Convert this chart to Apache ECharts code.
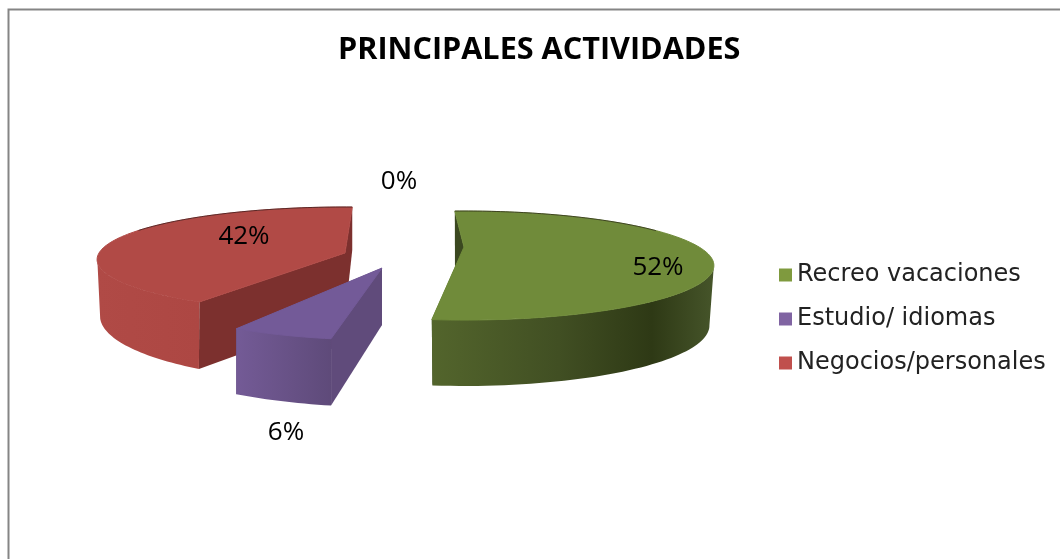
<!DOCTYPE html>
<html><head><meta charset="utf-8">
<style>html,body{margin:0;padding:0;background:#fff}#c{width:1060px;height:559px}</style>
<script src="https://cdn.jsdelivr.net/npm/echarts@6/dist/echarts.min.js"></script>
</head><body><div id="c"></div>
<script>
const titleText = 'PRINCIPALES ACTIVIDADES';
const categories = ['Recreo vacaciones', 'Estudio/ idiomas', 'Negocios/personales', ''];
const values = [52, 6, 42, 0];

// Projection of each exploded slice onto the page (perspective: k)
const layout = [
  { top: {cx:464, cy:247, R:235, S:48.2, k:.34, rot:-3, rotEnd:-2},
    bot: {cx:464, cy:305, R:231, S:53.6, k:.338, rot:-3, rotEnd:-2},
    topColor:'#708b3a', wallColor:'#3b4820', gradX:[431,714],
    grad:[[0,'#53652c'],[.45,'#414f23'],[.78,'#2e3915'],[1,'#46552a']],
    wallArc:[112,187.2], backArc:[0,70],
    label:[658,268] },
  { top: {cx:382, cy:268, R:272, S:72, k:0, rot:3.6, rotEnd:3.6},
    bot: {cx:382, cy:325, R:272, S:82, k:0, rot:3.6, rotEnd:3.6},
    topColor:'#735a98', wallColor:'#604b7b', gradX:[234,333],
    grad:[[0,'#745b97'],[1,'#5e4a79']],
    wallArc:[187.2,208.8],
    label:[286,433] },
  { top: {cx:345, cy:253, R:246, S:51.7, k:.124, rot:3.2, rotEnd:1.9},
    bot: {cx:345, cy:316, R:245, S:66, k:0, rot:7.8, rotEnd:1.7},
    topColor:'#b14a46', wallColor:'#7c302e', gradX:[97,200],
    grad:[[0,'#b04a46'],[1,'#ad4743']],
    wallArc:[208.8,262], backArc:[295,360],
    label:[244,237] },
  { label:[399,182] }
];
const legendColors = ['#7f9a3e', '#8064a2', '#c0504d'];

const total = values.reduce((a,b)=>a+b,0);
const starts = values.map((_,i)=>values.slice(0,i).reduce((a,b)=>a+b,0)/total*360);

function makePt(m,a,b){
  return function(deg){
    const f=(deg-a)/(b-a), t=(deg+m.rot+(m.rotEnd-m.rot)*f)*Math.PI/180;
    const X=Math.sin(t), Y=Math.cos(t), w=1+m.k*Y;
    return [m.cx+m.R*X/w, m.cy-m.S*Y/w];
  };
}
function arc(p,a,b){
  const out=[], n=Math.max(2,Math.ceil(Math.abs(b-a)/1.5));
  for(let i=0;i<=n;i++) out.push(p(a+(b-a)*i/n));
  return out;
}
function renderSlice(i){
  return function(params, api){
    const v=api.value(0), L=layout[i], a=starts[i], b=a+v/total*360, children=[];
    const text={type:'text',z2:10,style:{text:Math.round(v)+'%',x:L.label[0],y:L.label[1],
      align:'center',verticalAlign:'middle',font:'26px "Open Sans"',fill:'#000'}};
    if(v>0){
      const T=L.top,B=L.bot,ct=[T.cx,T.cy],cb=[B.cx,B.cy],pT=makePt(T,a,b),pB=makePt(B,a,b);
      const poly=(points,fill,stroke)=>({type:'polygon',shape:{points},style:{fill,stroke:stroke||null,lineWidth:stroke?1:0}});
      children.push(poly([pT(b),ct,cb,pB(b)],L.wallColor));
      children.push(poly([pT(a),ct,cb,pB(a)],L.wallColor));
      const grad=new echarts.graphic.LinearGradient(L.gradX[0],0,L.gradX[1],0,
        L.grad.map(g=>({offset:g[0],color:g[1]})),true);
      children.push(poly(arc(pT,L.wallArc[0],L.wallArc[1]).concat(arc(pB,L.wallArc[0],L.wallArc[1]).reverse()),grad));
      children.push(poly([ct].concat(arc(pT,a,b)),L.topColor,L.topColor));
      if(L.backArc) children.push({type:'polyline',shape:{points:arc(pT,L.backArc[0],L.backArc[1])},
        style:{fill:null,stroke:'rgba(20,10,10,.55)',lineWidth:1}});
    }
    children.push(text);
    return {type:'group',children};
  };
}

const chart=echarts.init(document.getElementById('c'),null,{renderer:'canvas'});
chart.setOption({
  animation:false,
  backgroundColor:'#fff',
  title:{text:titleText,left:333,top:30,
    textStyle:{fontFamily:'"Open Sans"',fontWeight:'bold',fontSize:30.6,color:'#000'}},
  legend:{
    data:categories.slice(0,3), left:779, top:262, orient:'vertical', padding:0,
    itemWidth:13,itemHeight:13,itemGap:18,
    textStyle:{fontFamily:'"DejaVu Sans"',fontSize:24,lineHeight:26,color:'#222'},
    icon:'rect', selectedMode:false
  },
  graphic:[
    {type:'polyline',shape:{points:[[8.5,559],[8.5,9.5],[1060,9.5]]},style:{stroke:'#858585',lineWidth:2,fill:null}}
  ],
  series:[2,1,0,3].map(i=>({
    type:'custom',name:categories[i],coordinateSystem:'none',
    itemStyle:{color:legendColors[i]||'#000'},
    renderItem:renderSlice(i),data:[[values[i]]],silent:true
  }))
});
</script></body></html>
